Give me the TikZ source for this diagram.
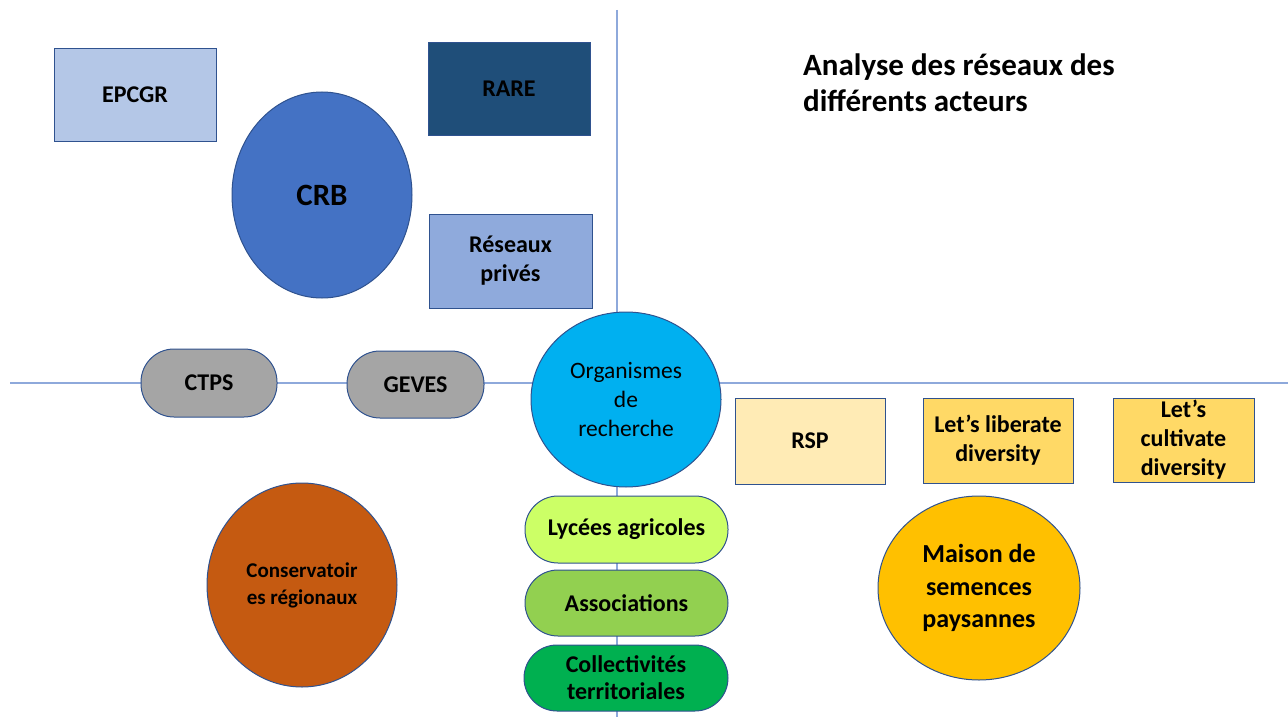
\documentclass[tikz,border=0pt]{standalone}
\usepackage{fontspec}
\setmainfont{Carlito}
\usetikzlibrary{shapes.geometric}
\definecolor{bd}{HTML}{2F528F}
\definecolor{axis}{HTML}{8EA9DB}
\definecolor{cEPC}{HTML}{B4C7E7}
\definecolor{cRARE}{HTML}{1F4E79}
\definecolor{cCRB}{HTML}{4472C4}
\definecolor{cRES}{HTML}{8FAADC}
\definecolor{cGRAY}{HTML}{A5A5A5}
\definecolor{cORG}{HTML}{00B0F0}
\definecolor{cRSP}{HTML}{FFEBB5}
\definecolor{cLET}{HTML}{FFD966}
\definecolor{cMSP}{HTML}{FFC000}
\definecolor{cCONS}{HTML}{C55A11}
\definecolor{cLYC}{HTML}{CCFF66}
\definecolor{cASS}{HTML}{92D050}
\definecolor{cCOL}{HTML}{00B050}
\tikzset{
  lab/.style={font=\bfseries\fontsize{24}{29}\selectfont, align=center, text=black},
  boxnode/.style={lab, draw=bd, line width=1pt, rectangle, inner sep=0pt},
  ellnode/.style={lab, draw=bd, line width=1pt, ellipse, inner sep=0pt},
  pill/.style={lab, draw=bd, line width=1pt, rectangle, rounded corners=33pt, inner sep=0pt},
  axisline/.style={draw=axis, line width=1.1pt}
}
\begin{document}
\begin{tikzpicture}[x=1pt,y=-1pt]
\useasboundingbox (0,0) rectangle (1288,717);
% axes
\coordinate (vtop) at (617,10);
\coordinate (vbot) at (617,717);
\coordinate (hleft) at (10,383);
\coordinate (hright) at (1288,383);
\draw[axisline] (vtop) -- (vbot);
\draw[axisline] (hleft) -- (hright);
% top-left quadrant
\node[boxnode, fill=cEPC, minimum width=162pt, minimum height=92pt] (epcgr) at (135,95) {EPCGR};
\node[boxnode, fill=cRARE, minimum width=162pt, minimum height=92pt] (rare) at (509,89) {RARE};
\node[boxnode, fill=cRES, minimum width=163pt, minimum height=94pt] (reseaux) at (510.5,261) {Réseaux\\privés};
\node[ellnode, fill=cCRB, minimum width=180pt, minimum height=206pt, font=\bfseries\fontsize{31}{34}\selectfont] (crb) at (322,195) {CRB};
% title
\node[anchor=north west, align=left, inner sep=0pt, font=\bfseries\fontsize{31}{36}\selectfont] (title) at (803,54) {Analyse des réseaux des\\différents acteurs};
% middle row
\node[pill, fill=cGRAY, minimum width=136pt, minimum height=68pt] (ctps) at (209,383) {CTPS};
\node[pill, fill=cGRAY, minimum width=137pt, minimum height=67pt] (geves) at (415.5,384.5) {GEVES};
\node[ellnode, fill=cORG, minimum width=190pt, minimum height=175pt, font=\fontsize{23.5}{29}\selectfont] (org) at (626,399.5) {Organismes\\de\\recherche};
% right boxes
\node[boxnode, fill=cRSP, minimum width=150pt, minimum height=86pt] (rsp) at (810,441) {RSP};
\node[boxnode, fill=cLET, minimum width=150pt, minimum height=85pt] (liberate) at (998,440.5) {Let’s liberate\\diversity};
\node[boxnode, fill=cLET, minimum width=141pt, minimum height=84pt] (cultivate) at (1183.5,440) {Let’s\\cultivate\\diversity};
\node[ellnode, fill=cMSP, minimum width=202pt, minimum height=184pt, font=\bfseries\fontsize{26}{32.5}\selectfont] (maison) at (979,588) {Maison de\\semences\\paysannes};
% bottom left
\node[ellnode, fill=cCONS, minimum width=190pt, minimum height=204pt, font=\bfseries\fontsize{21}{27}\selectfont] (cons) at (302,585) {Conservatoir\\es régionaux};
% stack
\node[pill, fill=cLYC, minimum width=203pt, minimum height=67pt] (lycees) at (626.5,529.5) {Lycées agricoles};
\node[pill, fill=cASS, minimum width=203pt, minimum height=66pt] (assoc) at (626.5,603) {Associations};
\node[pill, fill=cCOL, minimum width=204pt, minimum height=66pt, font=\bfseries\fontsize{24}{27}\selectfont] (coll) at (626,678) {Collectivités\\territoriales};
\end{tikzpicture}
\end{document}
